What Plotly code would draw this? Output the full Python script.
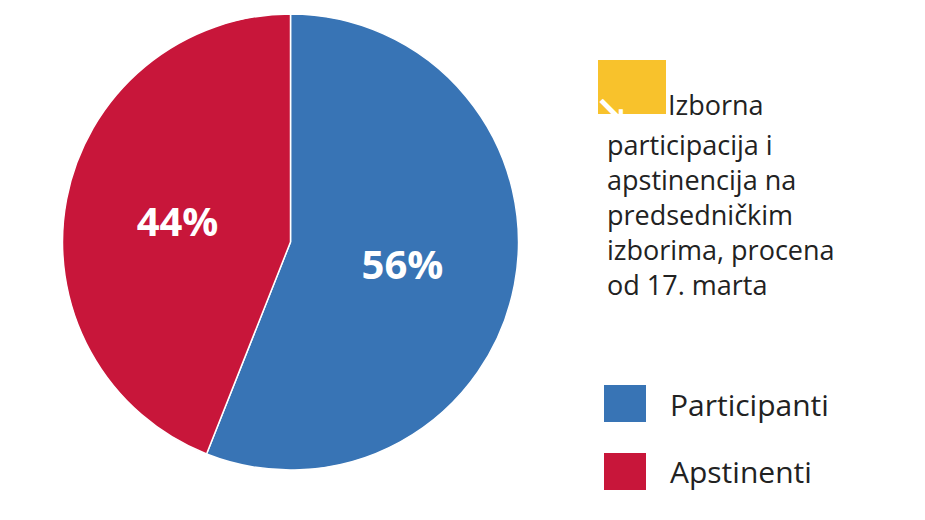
import plotly.graph_objects as go

labels = ["Participanti", "Apstinenti"]
values = [56, 44]
colors = ["#3874b5", "#c8163a"]
title_lines = ["participacija i", "apstinencija na", "predsedničkim", "izborima, procena", "od 17. marta"]

W, H = 925, 520
def px(x): return x / W
def py(y): return 1 - y / H

fig = go.Figure(go.Pie(
    labels=labels, values=values, sort=False, direction="clockwise", rotation=0,
    marker=dict(colors=colors, line=dict(color="white", width=1.5)),
    texttemplate="<b>%{percent:.0%}</b>", textposition="inside", insidetextorientation="horizontal",
    textfont=dict(family="Open Sans", size=40, color="white"),
    domain=dict(x=[px(50), px(515)], y=[py(462), py(6)]),
    showlegend=False, hoverinfo="label+percent"))

shapes = [
    dict(type="rect", xref="paper", yref="paper", x0=px(590), x1=px(658), y0=py(106), y1=py(52),
         fillcolor="#f8c22c", line=dict(width=0)),
    dict(type="rect", xref="paper", yref="paper", x0=px(596), x1=px(638), y0=py(414), y1=py(377),
         fillcolor=colors[0], line=dict(width=0)),
    dict(type="rect", xref="paper", yref="paper", x0=px(596), x1=px(638), y0=py(482), y1=py(445),
         fillcolor=colors[1], line=dict(width=0)),
]
font = dict(family="Open Sans", size=27, color="#222")
ann = [
    dict(text="<b>↘</b>", x=px(622), y=py(78), font=dict(family="DejaVu Sans", size=40, color="white"),
         showarrow=False, xref="paper", yref="paper"),
    dict(text="Izborna", x=px(658), y=py(96), xanchor="left", yanchor="middle", font=font,
         showarrow=False, xref="paper", yref="paper"),
    dict(text="<br>".join(title_lines), x=px(597), y=py(116), xanchor="left", yanchor="top",
         align="left", font=font, showarrow=False, xref="paper", yref="paper"),
    dict(text=labels[0], x=px(660), y=py(396), xanchor="left", yanchor="middle",
         font=dict(family="Open Sans", size=30, color="#222"), showarrow=False, xref="paper", yref="paper"),
    dict(text=labels[1], x=px(660), y=py(463), xanchor="left", yanchor="middle",
         font=dict(family="Open Sans", size=30, color="#222"), showarrow=False, xref="paper", yref="paper"),
]
fig.update_layout(width=W, height=H, margin=dict(l=0, r=0, t=0, b=0),
                  paper_bgcolor="white", shapes=shapes, annotations=ann)
fig.write_html("out.html")
